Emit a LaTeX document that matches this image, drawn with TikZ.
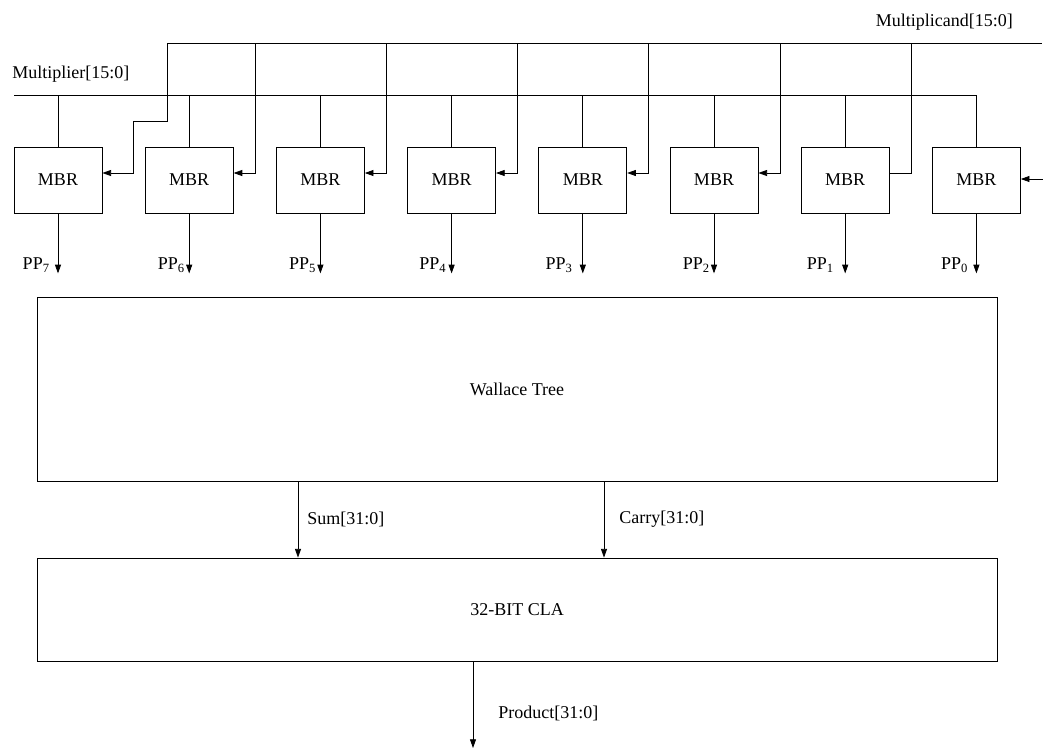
\documentclass[tikz,border=0pt]{standalone}
\usepackage{fontspec}
\setmainfont{Liberation Serif}
\usetikzlibrary{arrows.meta,calc}
\tikzset{
  mbrbox/.style={draw,line width=0.6pt,minimum width=66pt,minimum height=49.5pt,inner sep=0pt,font=\fontsize{13.5}{16}\selectfont},
  block/.style={draw,line width=0.6pt,minimum width=720pt,inner sep=0pt,font=\fontsize{13.5}{16}\selectfont},
  sig/.style={-{Triangle[length=6.5pt,width=4.5pt]},line width=0.6pt},
  wire/.style={line width=0.6pt},
  lbl/.style={inner sep=0pt,font=\fontsize{13.5}{16}\selectfont}
}

\begin{document}
\begin{tikzpicture}[x=0.75pt,y=-0.75pt]
  \useasboundingbox (0,0) rectangle (1043,751);
  % booth recoders
  \foreach \n [count=\i from 0] in {7,6,...,0}
    \node[mbrbox] (mbr\n) at ({58+131.2*\i},180) {MBR};

  % operand buses
  \coordinate (mpl) at (14,95);
  \coordinate (mcl) at (167,43);
  \coordinate (mcr) at (1042,43);
  \node[lbl,anchor=base west] (mpllabel) at (12,78) {Multiplier[15:0]};
  \node[lbl,anchor=base east] (mcdlabel) at (1013,26) {Multiplicand[15:0]};
  \draw[wire] (mpl) -| (mbr0.north);
  \foreach \n in {7,6,...,1}
    \draw[wire] (mbr\n.north |- mpl) -- (mbr\n.north);
  \draw[wire] (mcl) -- (mcr);

  % multiplicand taps
  \foreach \n in {6,5,...,1} {
    \coordinate (in\n) at ($(mbr\n.east)+(0,-7)$);
    \coordinate (tap\n) at ($(mbr\n.east)+(21.5,-7)$);
  }
  \coordinate (in7) at ($(mbr7.east)+(0,-7)$);
  \coordinate (tap7) at ($(mbr7.east)+(31,-7)$);
  \draw[sig] (mcl) |- ($(tap7)+(0,-52)$) -- (tap7) -- (in7);
  \foreach \n in {6,5,...,2}
    \draw[sig] (tap\n |- mcl) -- (tap\n) -- (in\n);
  \draw[wire] (tap1 |- mcl) -- (tap1) -- (in1);
  \coordinate (mcin) at (1043,179);
  \draw[sig] (mcin) -- (mbr0.east |- mcin);

  % partial products
  \foreach \n/\dx in {7/8,6/4,5/4,4/5,3/10,2/4,1/11,0/8} {
    \draw[sig] (mbr\n.south) -- ++(0,60) coordinate (pp\n);
    \node[lbl,anchor=base east] (pplabel\n) at ($(pp\n)+(-\dx,-4)$) {PP\textsubscript{\n}};
  }

  % adder stages
  \node[block,minimum height=138pt] (wt) at (517,389) {Wallace Tree};
  \node[block,minimum height=77.25pt] (cla) at (517,609.5) {32-BIT CLA};
  \coordinate (sumx) at (298,0);
  \coordinate (carryx) at (604,0);
  \coordinate (prodx) at (473,0);
  \draw[sig] (sumx |- wt.south) -- (sumx |- cla.north)
    node[lbl,midway,anchor=west,xshift=6.75pt] (sumlabel) {Sum[31:0]};
  \draw[sig] (carryx |- wt.south) -- (carryx |- cla.north)
    node[lbl,midway,anchor=west,xshift=11.25pt] (carrylabel) {Carry[31:0]};
  \coordinate (prodend) at (473,748);
  \draw[sig] (prodx |- cla.south) -- (prodend)
    node[lbl,pos=0.6,anchor=west,xshift=18.75pt] (prodlabel) {Product[31:0]};
\end{tikzpicture}
\end{document}
